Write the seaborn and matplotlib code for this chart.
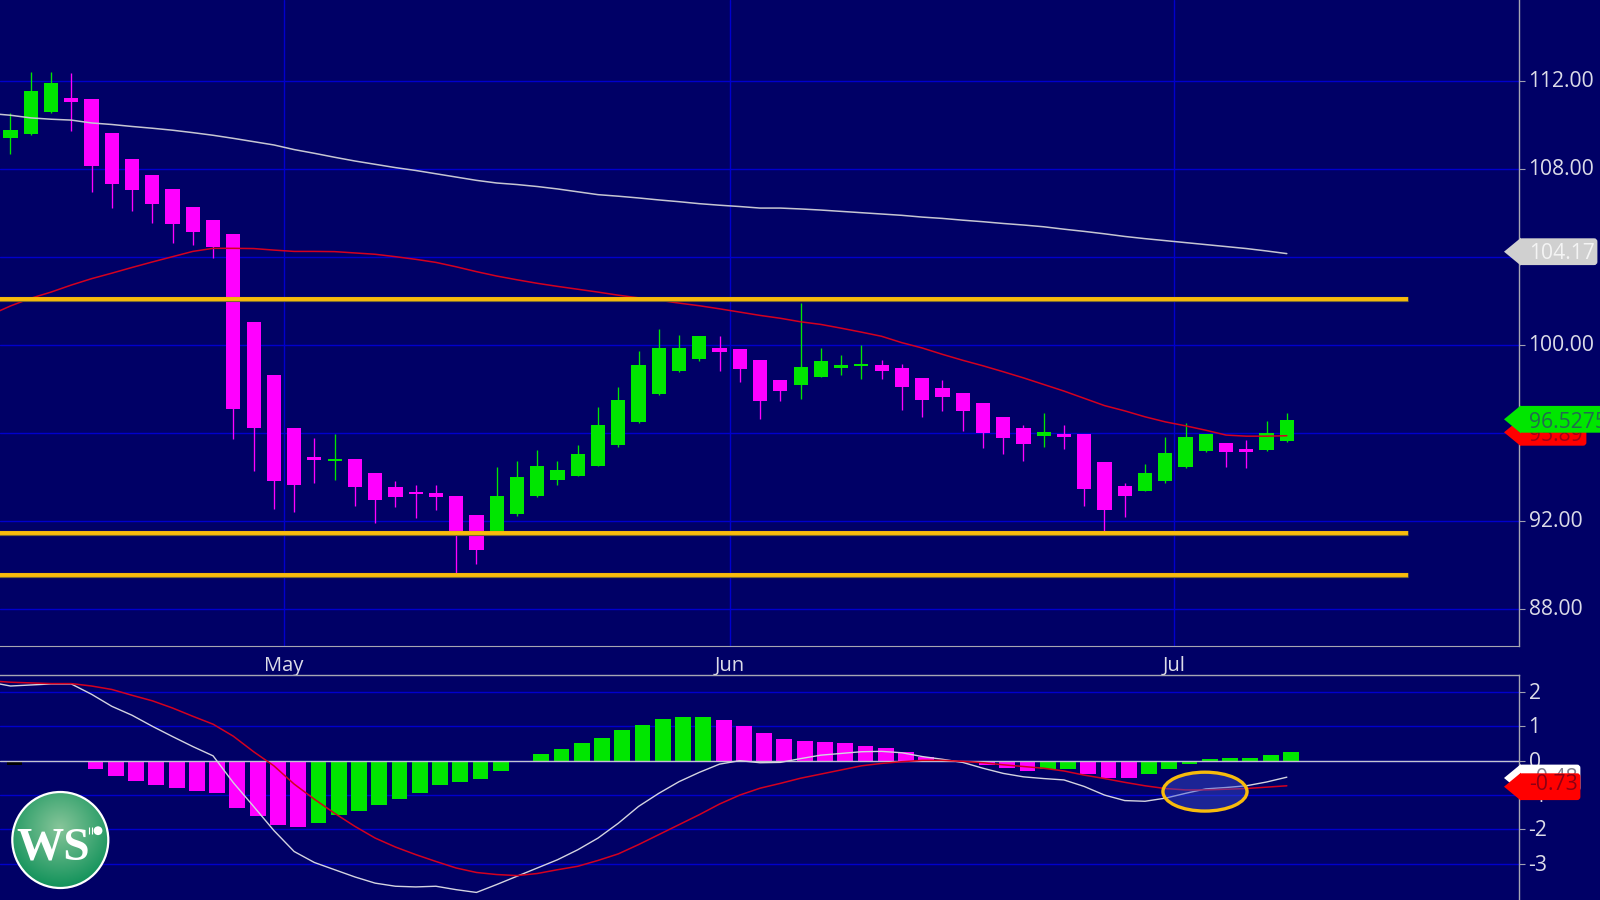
import numpy as np
import pandas as pd
import seaborn as sns
import matplotlib.pyplot as plt
from matplotlib.patches import Circle, Ellipse, FancyBboxPatch, Polygon
from matplotlib.transforms import ScaledTranslation

# daily candles
opens = [109.43, 109.61, 110.60, 111.25, 111.18, 109.66, 108.47, 107.74, 107.10, 106.30, 105.69, 105.07, 101.05,
         98.64, 96.22, 94.91, 94.73, 94.85, 94.19, 93.54, 93.34, 93.28, 93.15, 92.29, 91.50, 92.32, 93.16, 93.87,
         94.07, 94.52, 95.45, 96.50, 97.80, 98.84, 99.37, 99.88, 99.82, 99.35, 98.43, 98.21, 98.58, 98.98, 99.05,
         99.10, 98.98, 98.51, 98.04, 97.85, 97.39, 96.75, 96.22, 95.90, 95.98, 95.96, 94.71, 93.60, 93.36, 93.81,
         94.46, 95.18, 95.56, 95.30, 95.24, 95.63]
highs = [110.57, 112.43, 112.44, 112.37, 111.18, 109.66, 108.47, 107.74, 107.10, 106.30, 105.69, 105.07, 101.05,
         98.64, 96.22, 95.77, 95.96, 94.85, 94.19, 93.84, 93.63, 93.63, 93.15, 92.29, 94.46, 94.76, 95.23, 94.73,
         95.48, 97.21, 98.12, 99.73, 100.73, 100.46, 100.41, 100.41, 99.82, 99.35, 98.43, 101.91, 99.88, 99.56, 100.02,
         99.35, 99.16, 98.51, 98.43, 97.85, 97.39, 96.75, 96.40, 96.94, 96.36, 95.96, 94.71, 93.73, 94.59, 95.81,
         96.49, 95.96, 95.56, 95.69, 96.54, 96.94]
lows = [108.71, 109.57, 110.54, 109.75, 106.98, 106.25, 106.10, 105.54, 104.65, 104.55, 103.95, 95.74, 94.28,
        92.58, 92.44, 93.75, 93.87, 92.70, 91.91, 92.65, 92.15, 92.52, 89.61, 90.06, 91.40, 92.26, 93.12, 93.63,
        94.04, 94.50, 95.39, 96.45, 97.74, 98.80, 99.31, 98.84, 98.34, 96.64, 97.48, 97.55, 98.55, 98.67, 98.46,
        98.46, 97.08, 96.76, 97.03, 96.11, 95.32, 95.05, 94.73, 95.39, 95.27, 92.70, 91.57, 92.18, 93.36, 93.75,
        94.41, 95.14, 94.47, 94.41, 95.18, 95.59]
closes = [109.79, 111.57, 111.91, 111.07, 108.15, 107.32, 107.06, 106.43, 105.52, 105.14, 104.46, 97.09, 96.23,
          93.81, 93.63, 94.80, 94.85, 93.55, 92.97, 93.10, 93.24, 93.10, 91.38, 90.68, 93.15, 94.00, 94.52, 94.32,
          95.05, 96.36, 97.53, 99.10, 99.88, 99.88, 100.41, 99.70, 98.93, 97.48, 97.94, 99.02, 99.29, 99.10, 99.17,
          98.84, 98.12, 97.53, 97.67, 97.03, 96.02, 95.77, 95.50, 96.08, 95.84, 93.48, 92.52, 93.16, 94.19, 95.11,
          95.81, 95.96, 95.14, 95.14, 96.02, 96.61]

# moving averages start one session left of the visible window
sma_long = [110.54, 110.46, 110.34, 110.28, 110.24, 110.11, 110.04, 109.95, 109.87, 109.78, 109.67, 109.55, 109.41,
            109.26, 109.11, 108.90, 108.73, 108.55, 108.38, 108.23, 108.08, 107.95, 107.80, 107.65, 107.50, 107.38,
            107.31, 107.22, 107.11, 106.98, 106.85, 106.78, 106.70, 106.61, 106.53, 106.44, 106.37, 106.31, 106.24,
            106.24, 106.20, 106.15, 106.09, 106.03, 105.97, 105.91, 105.83, 105.77, 105.69, 105.62, 105.54, 105.47,
            105.39, 105.28, 105.18, 105.07, 104.95, 104.85, 104.76, 104.67, 104.58, 104.49, 104.40, 104.29, 104.17]
sma_short = [101.38, 101.79, 102.14, 102.42, 102.74, 103.03, 103.28, 103.54, 103.79, 104.03, 104.27, 104.41, 104.41,
             104.40, 104.33, 104.27, 104.27, 104.26, 104.20, 104.14, 104.03, 103.91, 103.77, 103.57, 103.35, 103.15,
             102.98, 102.82, 102.68, 102.55, 102.42, 102.28, 102.16, 102.05, 101.92, 101.80, 101.66, 101.51, 101.36,
             101.23, 101.07, 100.95, 100.78, 100.60, 100.41, 100.12, 99.88, 99.59, 99.32, 99.07, 98.80, 98.52,
             98.22, 97.92, 97.59, 97.26, 97.02, 96.75, 96.52, 96.34, 96.14, 95.92, 95.87, 95.87, 95.89]
levels = [102.11, 91.46, 89.55]

macd_hist = [-0.12, -0.03, 0.0, -0.03, -0.25, -0.46, -0.58, -0.71, -0.78, -0.87, -0.93, -1.38, -1.62, -1.88, -1.92,
             -1.80, -1.59, -1.46, -1.29, -1.12, -0.93, -0.71, -0.63, -0.54, -0.29, -0.04, 0.20, 0.33, 0.50, 0.67,
             0.88, 1.04, 1.21, 1.26, 1.26, 1.17, 1.00, 0.79, 0.63, 0.58, 0.54, 0.50, 0.42, 0.37, 0.25, 0.11, 0.03,
             -0.01, -0.13, -0.20, -0.29, -0.25, -0.25, -0.39, -0.49, -0.49, -0.38, -0.25, -0.09, 0.04, 0.09, 0.09,
             0.17, 0.26]
hist_colors = ['black', 'green', 'green', 'magenta', 'magenta', 'magenta', 'magenta', 'magenta', 'magenta', 'magenta',
               'magenta', 'magenta', 'magenta', 'magenta', 'magenta', 'green', 'green', 'green', 'green', 'green',
               'green', 'green', 'green', 'green', 'green', 'green', 'green', 'green', 'green', 'green', 'green',
               'green', 'green', 'green', 'green', 'magenta', 'magenta', 'magenta', 'magenta', 'magenta', 'magenta',
               'magenta', 'magenta', 'magenta', 'magenta', 'magenta', 'magenta', 'magenta', 'magenta', 'magenta',
               'magenta', 'green', 'green', 'magenta', 'magenta', 'magenta', 'green', 'green', 'green', 'green',
               'green', 'green', 'green', 'green']
macd_line = [2.28, 2.17, 2.20, 2.23, 2.23, 1.93, 1.58, 1.32, 1.00, 0.70, 0.41, 0.14, -0.64, -1.33, -2.03, -2.64, -2.96,
             -3.17, -3.38, -3.56, -3.65, -3.67, -3.65, -3.75, -3.83, -3.60, -3.36, -3.12, -2.88, -2.59, -2.25, -1.82,
             -1.33, -0.95, -0.61, -0.34, -0.10, 0.00, -0.06, -0.05, 0.06, 0.16, 0.21, 0.26, 0.27, 0.23, 0.12, 0.04,
             -0.05, -0.22, -0.37, -0.47, -0.52, -0.56, -0.75, -1.00, -1.16, -1.18, -1.09, -0.95, -0.82, -0.78, -0.73,
             -0.62, -0.48]
macd_signal = [2.32, 2.28, 2.26, 2.24, 2.24, 2.17, 2.07, 1.90, 1.74, 1.53, 1.29, 1.06, 0.71, 0.26, -0.15, -0.68, -1.12,
               -1.53, -1.91, -2.25, -2.51, -2.73, -2.93, -3.12, -3.25, -3.31, -3.34, -3.28, -3.17, -3.07, -2.90, -2.71,
               -2.44, -2.15, -1.86, -1.57, -1.26, -1.00, -0.80, -0.66, -0.51, -0.39, -0.27, -0.15, -0.08, -0.03, 0.01,
               0.01, -0.02, -0.06, -0.12, -0.17, -0.22, -0.30, -0.42, -0.52, -0.63, -0.73, -0.81, -0.85, -0.85, -0.83,
               -0.81, -0.77, -0.73]

month_pos = [13.5, 35.5, 57.45]
month_labels = ['May', 'Jun', 'Jul']
price_ticks = [88, 92, 96, 100, 104, 108, 112]
price_tick_labels = ['88.00', '92.00', '', '100.00', '', '108.00', '112.00']
macd_ticks = [2, 1, 0, -1, -2, -3]
macd_tick_labels = ['2', '1', '0', '-1', '-2', '-3']

BG = '#000066'
GRID = '#0000cc'
GREEN = '#00e600'
PINK = '#ff00ff'
RED = '#d4001f'
SILVER = '#c6c6d2'
GOLD = '#f8bb0c'
TXT = '#dcdce8'

sns.set_theme(style='dark', rc={'axes.facecolor': BG, 'figure.facecolor': BG, 'axes.unicode_minus': False})
plt.rcParams['font.family'] = ['Open Sans', 'DejaVu Sans']

candles = pd.DataFrame({'i': range(len(opens)), 'open': opens, 'high': highs, 'low': lows, 'close': closes})
candles['up'] = candles['close'] >= candles['open']
candles['bottom'] = candles[['open', 'close']].min(axis=1)
candles['height'] = (candles['close'] - candles['open']).abs()
line_x = list(range(-1, len(opens)))

fig = plt.figure(figsize=(16, 9), dpi=100)
ax = fig.add_axes([0, 1 - 646 / 900, 1519 / 1600, 646 / 900])
ax2 = fig.add_axes([0, 0, 1519 / 1600, 225 / 900])

# price panel
for up, colour in [(True, GREEN), (False, PINK)]:
    part = candles[candles['up'] == up]
    ax.vlines(part['i'], part['low'], part['high'], color=colour, lw=0.95, zorder=3)
    sns.barplot(data=part, x='i', y='height', bottom=part['bottom'].values, native_scale=True, orient='x',
                width=0.7, color=colour, saturation=1, errorbar=None, linewidth=0, ax=ax, zorder=4)

sns.lineplot(x=line_x, y=sma_long, color=SILVER, lw=1.1, errorbar=None, ax=ax, zorder=5)
sns.lineplot(x=line_x, y=sma_short, color=RED, lw=1.1, errorbar=None, ax=ax, zorder=5)
ax.hlines(levels, -1, 68.96, color='#7a6a30', lw=3.7, zorder=6)
ax.hlines(levels, -1, 68.96, color=GOLD, lw=2.8, zorder=6)

ax.set_xlim(-0.518, 74.46)
ax.set_ylim(86.33, 115.70)
ax.set_xticks(month_pos, month_labels)
ax.set_yticks(price_ticks, price_tick_labels)
ax.set_xlabel('')
ax.set_ylabel('')
ax.yaxis.tick_right()
ax.grid(True, color=GRID, lw=1.0)
ax.set_axisbelow(True)
ax.tick_params(axis='x', length=0, pad=7, labelsize=14.5, labelcolor=TXT)
ax.tick_params(axis='y', length=4.3, width=0.8, color='#a0a0b0', pad=2.6, labelsize=15.2, labelcolor=TXT)
for side in ['top', 'left']:
    ax.spines[side].set_visible(False)
ax.spines['right'].set_color('#a6a6b2')
ax.spines['bottom'].set_color('#a6a6b2')
ax.spines['right'].set_linewidth(1.0)
ax.spines['bottom'].set_linewidth(0.8)

# macd panel
hist = pd.DataFrame({'i': np.arange(len(macd_hist)) + 0.2, 'v': macd_hist, 'c': hist_colors})
for name, colour in [('green', GREEN), ('magenta', PINK), ('black', 'black')]:
    part = hist[hist['c'] == name]
    sns.barplot(data=part, x='i', y='v', native_scale=True, orient='x', width=0.78, color=colour, saturation=1,
                errorbar=None, linewidth=0, ax=ax2, zorder=3)
ax2.axhline(0, color='#c4c4d0', lw=1.0, zorder=4)
sns.lineplot(x=line_x, y=macd_line, color='#d4d4e0', lw=1.0, errorbar=None, ax=ax2, zorder=5)
sns.lineplot(x=line_x, y=macd_signal, color=RED, lw=1.1, errorbar=None, ax=ax2, zorder=5)
ax2.add_patch(Ellipse((58.96, -0.90), 4.15, 1.13, facecolor='#3c50d0', alpha=0.45, edgecolor='none', zorder=6))
ax2.add_patch(Ellipse((58.96, -0.90), 4.15, 1.13, facecolor='none', edgecolor=GOLD, lw=2.4, zorder=7))

ax2.set_xlim(-0.518, 74.46)
ax2.set_ylim(-4.05, 2.49)
ax2.set_xticks([])
ax2.set_yticks(macd_ticks, macd_tick_labels)
ax2.set_xlabel('')
ax2.set_ylabel('')
ax2.yaxis.tick_right()
ax2.grid(True, axis='y', color=GRID, lw=1.0)
ax2.set_axisbelow(True)
ax2.tick_params(axis='y', length=4.3, width=0.8, color='#a0a0b0', pad=2.6, labelsize=15.2, labelcolor=TXT)
for side in ['left', 'bottom']:
    ax2.spines[side].set_visible(False)
ax2.spines['right'].set_color('#a6a6b2')
ax2.spines['top'].set_color('#a6a6b2')
ax2.spines['right'].set_linewidth(1.0)
ax2.spines['top'].set_linewidth(1.0)

# tick labels sit a little above their grid lines in the reference
for lab in ax.get_yticklabels():
    lab.set_transform(lab.get_transform() + ScaledTranslation(0, 0.02, fig.dpi_scale_trans))
for lab in ax2.get_yticklabels():
    lab.set_transform(lab.get_transform() + ScaledTranslation(0, 0.01, fig.dpi_scale_trans))

# overlay in pixel coordinates for the price tags and the logo
ov = fig.add_axes([0, 0, 1, 1], zorder=10)
ov.patch.set_alpha(0)
ov.axis('off')


def tag(y, text_y, half, right, colour, text, text_colour, z):
    ov.add_patch(FancyBboxPatch((1520, y - half + 2), right - 1522, 2 * half - 4, boxstyle='round,pad=0,rounding_size=2',
                                mutation_aspect=1, fc=colour, ec=colour, lw=2, zorder=z))
    ov.add_patch(Polygon([(1504, y), (1521, y - half), (1521, y + half)], fc=colour, ec='none', zorder=z))
    ov.text(1529, text_y, text, color=text_colour, fontsize=15.2, va='center', ha='left', clip_on=True, zorder=z + 0.5)


tag(251.7, 253.7, 14, 1598, '#d0d0d0', '104.17', '#f4f4f4', 2)
tag(432.3, 435.5, 14, 1587, '#ff0000', '95.89', '#a00018', 2)
tag(419.3, 422, 14, 1612, GREEN, '96.5275', '#226a50', 3)
tag(778, 778.7, 14, 1581, '#ffffff', '-0.48', '#808090', 2)
tag(786.7, 785, 14, 1581, '#ff0000', '-0.73', '#8c0014', 3)

# logo
yy, xx = np.mgrid[-1:1:200j, -1:1:200j]
shade = np.clip(np.hypot(xx, yy - 0.25) / 1.25, 0, 1)
im = ov.imshow(shade, extent=(11, 109, 889, 791), cmap=sns.blend_palette(['#86c599', '#0f9159'], as_cmap=True),
               aspect='auto', origin='lower', zorder=4)
ring = Circle((60.3, 840), 48, fc='none', ec='white', lw=1.6, zorder=5)
ov.add_patch(ring)
im.set_clip_path(Circle((60.3, 840), 48, transform=ov.transData))
ov.text(53, 859, 'WS', color='white', family='Liberation Serif', weight='bold', fontsize=34, ha='center',
        va='baseline', zorder=6)
ov.add_patch(Circle((98, 830.7), 4.4, fc='white', ec='none', zorder=6))
ov.vlines([89, 91.5], 827, 834, color='white', lw=0.8, zorder=6)

ov.set_xlim(0, 1600)
ov.set_ylim(900, 0)

fig.savefig('out.png', dpi=100, facecolor=BG)
